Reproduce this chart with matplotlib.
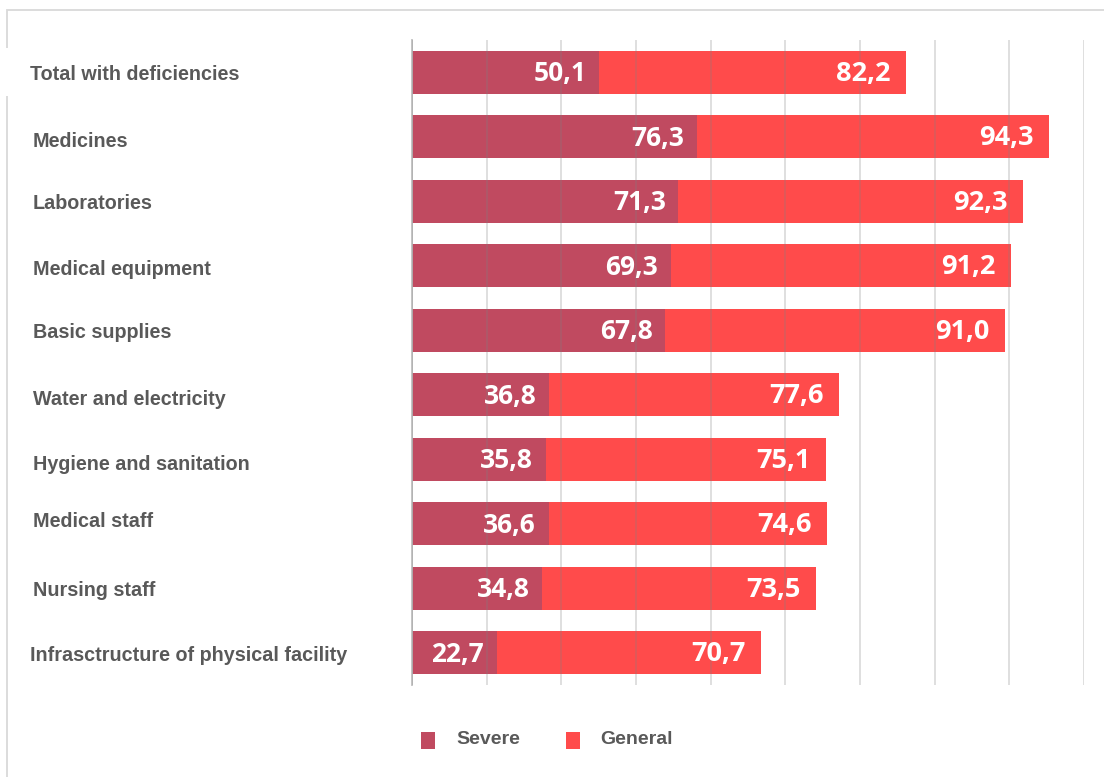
import matplotlib.pyplot as plt
from matplotlib.patches import Rectangle
import numpy as np

categories = ["Total with deficiencies", "Medicines", "Laboratories", "Medical equipment",
              "Basic supplies", "Water and electricity", "Hygiene and sanitation",
              "Medical staff", "Nursing staff", "Infrasctructure of physical facility"]
severe = [50.1, 76.3, 71.3, 69.3, 67.8, 36.8, 35.8, 36.6, 34.8, 22.7]
general = [82.2, 94.3, 92.3, 91.2, 91.0, 77.6, 75.1, 74.6, 73.5, 70.7]

c_sev = "#C04A60"
c_gen = "#FF4B4B"

W, H = 1104, 777
fig = plt.figure(figsize=(W / 100, H / 100), dpi=100)
ax = fig.add_axes([412 / W, 1 - 685 / H, 672 / W, 645 / H])

y = np.arange(len(categories))
ax.barh(y, severe, height=0.67, color=c_sev, zorder=2)
ax.barh(y, general, left=severe, height=0.67, color=c_gen, zorder=2)

for i in range(len(categories)):
    ax.annotate(f"{severe[i]:.1f}".replace(".", ","), (severe[i], i), xytext=(-9, -1),
                textcoords="offset points", ha="right", va="center", color="white",
                fontsize=19, fontweight="bold", family="Open Sans", zorder=4)
    ax.annotate(f"{general[i]:.1f}".replace(".", ","), (severe[i] + general[i], i), xytext=(-11, -1),
                textcoords="offset points", ha="right", va="center", color="white",
                fontsize=19.5, fontweight="bold", family="Open Sans", zorder=4)

ax.set_xlim(0, 180)
ax.set_ylim(len(categories) - 0.5, -0.5)
ax.set_xticks(np.arange(0, 181, 20))
ax.grid(axis="x", color="#808080", alpha=0.28, linewidth=1.3, zorder=3)
ax.set_axisbelow(False)
ax.tick_params(left=False, bottom=False, labelleft=False, labelbottom=False)
for s in ["top", "right", "bottom"]:
    ax.spines[s].set_visible(False)
ax.spines["left"].set_color("#BFBFBF")
ax.spines["left"].set_linewidth(1.3)

# frame around the chart
fig.patches.append(Rectangle((7 / W, -0.1), 1.2, 1 - 10 / H + 0.1, transform=fig.transFigure,
                             fill=False, edgecolor="#D9D9D9", linewidth=1.3, zorder=0))
fig.patches.append(Rectangle((4 / W, 1 - 96 / H), 370 / W, 48 / H, transform=fig.transFigure,
                             facecolor="white", edgecolor="none", zorder=1))

label_font = ["Liberation Sans", "DejaVu Sans"]
offsets = [3, 5, 3, 4, 2, 5, 5, -2, 3, 3]
for i, t in enumerate(categories):
    xpos = 30 if i in (0, 9) else 33
    ypix = 72 + i * 64.5 + offsets[i]
    fig.text(xpos / W, 1 - ypix / H, t, ha="left", va="center", fontsize=14.2,
             fontweight="bold", color="#595959", family=label_font, zorder=5)

# legend
leg_y = 1 - 740 / H
fig.patches.append(Rectangle((421 / W, 1 - 749 / H), 14 / W, 17 / H, transform=fig.transFigure,
                             facecolor=c_sev, edgecolor="none"))
fig.patches.append(Rectangle((566 / W, 1 - 749 / H), 14 / W, 17 / H, transform=fig.transFigure,
                             facecolor=c_gen, edgecolor="none"))
fig.text(456 / W, leg_y, "Severe", ha="left", va="center", fontsize=14, fontweight="bold",
         color="#595959", family=label_font)
fig.text(600 / W, leg_y, "General", ha="left", va="center", fontsize=14, fontweight="bold",
         color="#595959", family=label_font)

fig.savefig("out.png", dpi=100)
